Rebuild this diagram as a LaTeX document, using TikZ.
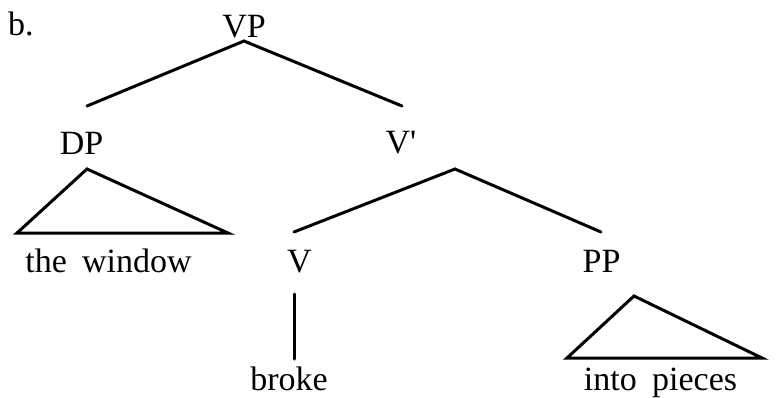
\documentclass[tikz,border=0pt]{standalone}
\usepackage{fontspec}
\setmainfont{Liberation Serif}
\tikzset{
  lbl/.style={anchor=base, inner sep=0pt, font=\fontsize{34}{40}\selectfont},
  branch/.style={line width=3pt, line cap=round, line join=miter, black}
}
\begin{document}
\begin{tikzpicture}[x=1pt,y=1pt]
\useasboundingbox (0,0) rectangle (779,-397);
% labels
\node[lbl, anchor=base west] (b) at (8,-35) {b.};
\node[lbl] (vp) at (244,-37) {VP};
\node[lbl] (dp) at (81.5,-154) {DP};
\node[lbl] (vbar) at (401,-153) {V\textquotesingle};
\node[lbl] (win) at (108.5,-272) {the\hspace{0.45em}window};
\node[lbl] (v) at (299.5,-272) {V};
\node[lbl] (pp) at (601.5,-272) {PP};
\node[lbl] (broke) at (289,-390) {broke};
\node[lbl] (pieces) at (660.5,-390) {into\hspace{0.45em}pieces};
% branch points
\coordinate (vptop) at (244,-41);
\coordinate (dpend) at (87,-106);
\coordinate (vbarend) at (402,-106);
\coordinate (dptop) at (87,-169);
\coordinate (dpl) at (17,-233);
\coordinate (dpr) at (228,-233);
\coordinate (vbartop) at (455,-169);
\coordinate (vend) at (294,-232);
\coordinate (ppend) at (601,-232);
\coordinate (vtop) at (294,-294);
\coordinate (vbot) at (294,-359);
\coordinate (pptop) at (634,-296);
\coordinate (ppl) at (567,-358);
\coordinate (ppr) at (762,-358);
% connectors
\draw[branch] (dpend) -- (vptop) -- (vbarend);
\draw[branch] (dptop) -- (dpl) -- (dpr) -- cycle;
\draw[branch] (vend) -- (vbartop) -- (ppend);
\draw[branch] (vtop) -- (vbot);
\draw[branch] (pptop) -- (ppl) -- (ppr) -- cycle;
\end{tikzpicture}
\end{document}
